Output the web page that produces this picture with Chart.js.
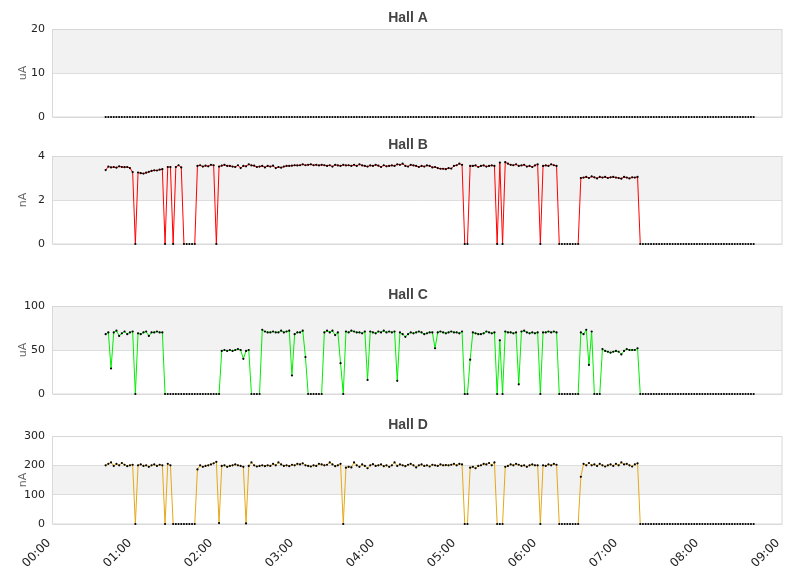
<!DOCTYPE html>
<html><head><meta charset="utf-8">
<script src="https://cdn.jsdelivr.net/npm/chart.js@4.4.0/dist/chart.umd.min.js"></script>
<style>
html,body{margin:0;padding:0;background:#fff;}
#wrap{position:relative;width:811px;height:578px;overflow:hidden;background:#fff}
canvas{position:absolute;left:0}
</style></head><body>
<div id="wrap">
<canvas id="c0" width="811" height="135" style="top:0px;width:811px;height:135px"></canvas>
<canvas id="c1" width="811" height="135" style="top:135px;width:811px;height:135px"></canvas>
<canvas id="c2" width="811" height="140" style="top:270px;width:811px;height:140px"></canvas>
<canvas id="c3" width="811" height="168" style="top:410px;width:811px;height:168px"></canvas>
</div>
<script>
// ---------- DATA ----------
const hourLabels = ['00:00','01:00','02:00','03:00','04:00','05:00','06:00','07:00','08:00','09:00'];
const hallNames = ['Hall A','Hall B','Hall C','Hall D'];
const units = ['uA','nA','uA','nA'];
const yMaxima = [20, 4, 100, 300];
const yStepSizes = [10, 2, 50, 100];
const startMinute = 39;   // first sample 00:39
const stepMinutes = 2;    // one sample every 2 minutes

const hallA = [
0,0,0,0,0,0,0,0,0,0, 0,0,0,0,0,0,0,0,0,0,
0,0,0,0,0,0,0,0,0,0, 0,0,0,0,0,0,0,0,0,0,
0,0,0,0,0,0,0,0,0,0, 0,0,0,0,0,0,0,0,0,0,
0,0,0,0,0,0,0,0,0,0, 0,0,0,0,0,0,0,0,0,0,
0,0,0,0,0,0,0,0,0,0, 0,0,0,0,0,0,0,0,0,0,
0,0,0,0,0,0,0,0,0,0, 0,0,0,0,0,0,0,0,0,0,
0,0,0,0,0,0,0,0,0,0, 0,0,0,0,0,0,0,0,0,0,
0,0,0,0,0,0,0,0,0,0, 0,0,0,0,0,0,0,0,0,0,
0,0,0,0,0,0,0,0,0,0, 0,0,0,0,0,0,0,0,0,0,
0,0,0,0,0,0,0,0,0,0, 0,0,0,0,0,0,0,0,0,0,
0,0,0,0,0,0,0,0,0,0, 0,0,0,0,0,0,0,0,0,0,
0,0,0,0,0,0,0,0,0,0, 0,0,0,0,0,0,0,0,0,0,
0
];

const hallB = [
3.36,3.52,3.48,3.50,3.47,3.53,3.50,3.49,3.50,3.45,
3.27,0,3.25,3.22,3.20,3.24,3.28,3.32,3.35,3.34,
3.38,3.40,0,3.50,3.50,0,3.50,3.58,3.48,0,
0,0,0,0,3.55,3.58,3.52,3.56,3.53,3.60,
3.58,0,3.52,3.56,3.60,3.55,3.55,3.52,3.50,3.58,
3.45,3.55,3.53,3.62,3.57,3.56,3.50,3.52,3.55,3.48,
3.55,3.52,3.56,3.45,3.50,3.47,3.52,3.55,3.55,3.56,
3.58,3.57,3.58,3.62,3.58,3.60,3.62,3.58,3.60,3.57,
3.60,3.58,3.55,3.58,3.52,3.60,3.57,3.55,3.60,3.57,
3.58,3.55,3.60,3.55,3.62,3.57,3.55,3.52,3.57,3.55,
3.60,3.56,3.50,3.58,3.53,3.55,3.57,3.55,3.62,3.60,
3.65,3.55,3.52,3.60,3.57,3.55,3.50,3.55,3.52,3.57,
3.55,3.48,3.50,3.45,3.42,3.42,3.40,3.45,3.43,3.55,
3.58,3.65,3.60,0,0,3.55,3.55,3.57,3.50,3.55,
3.57,3.52,3.55,3.57,3.55,0,3.70,0,3.72,3.65,
3.60,3.58,3.62,3.55,3.57,3.60,3.52,3.55,3.50,3.57,
3.62,0,3.55,3.57,3.55,3.62,3.58,3.55,0,0,
0,0,0,0,0,0,3.00,3.02,3.05,3.00,
3.07,3.03,2.98,3.05,3.02,3.05,3.00,3.03,3.05,3.02,
3.00,2.97,3.05,3.02,2.98,3.03,3.02,3.05,0,0,
0,0,0,0,0,0,0,0,0,0,
0,0,0,0,0,0,0,0,0,0,
0,0,0,0,0,0,0,0,0,0,
0,0,0,0,0,0,0,0,0,0,
0
];

const hallC = [
68,70,29,70,72,66,69,71,68,70,
71,0,69,68,70,71,66,70,70,71,
70,70,0,0,0,0,0,0,0,0,
0,0,0,0,0,0,0,0,0,0,
0,0,0,49,50,49,50,49,50,51,
50,40,49,50,0,0,0,0,73,71,
70,70,71,70,70,72,70,71,72,21,
68,70,70,72,42,0,0,0,0,0,
0,70,72,70,72,67,70,35,0,71,
70,72,71,70,70,69,71,16,71,70,
69,71,70,72,70,71,70,71,15,70,
68,65,68,70,69,70,71,70,68,69,
70,70,52,70,71,70,69,70,71,70,
70,69,71,0,0,39,70,69,68,68,
69,71,70,69,70,0,61,0,71,70,
70,69,70,11,71,72,70,69,70,69,
70,0,70,70,71,70,71,70,0,0,
0,0,0,0,0,0,70,68,73,33,
71,0,0,0,51,49,48,47,48,49,
48,45,49,51,50,50,50,52,0,0,
0,0,0,0,0,0,0,0,0,0,
0,0,0,0,0,0,0,0,0,0,
0,0,0,0,0,0,0,0,0,0,
0,0,0,0,0,0,0,0,0,0,
0
];

const hallD = [
200,205,210,198,205,200,208,202,197,200,
202,0,200,203,198,200,195,200,203,198,
202,200,0,205,200,0,0,0,0,0,
0,0,0,0,186,200,195,198,200,203,
207,212,3,198,200,195,198,200,203,200,
198,195,2,198,210,200,196,198,200,197,
200,198,205,200,210,203,198,200,197,202,
200,205,203,207,200,198,196,200,198,205,
203,200,202,210,203,197,200,205,0,192,
195,193,210,200,195,203,198,190,200,204,
198,200,203,197,200,195,200,210,198,203,
200,197,202,205,200,193,200,203,198,200,
196,202,200,198,203,200,201,200,202,205,
200,205,203,0,0,192,195,190,198,200,
205,203,208,200,210,0,0,0,195,198,
203,200,205,202,198,200,195,200,203,200,
200,0,200,198,203,200,205,202,0,0,
0,0,0,0,0,0,161,205,200,208,
200,203,198,205,200,196,200,203,198,205,
200,210,203,205,200,196,203,207,0,0,
0,0,0,0,0,0,0,0,0,0,
0,0,0,0,0,0,0,0,0,0,
0,0,0,0,0,0,0,0,0,0,
0,0,0,0,0,0,0,0,0,0,
0
];

const seriesValues = [hallA, hallB, hallC, hallD];
const sampleMinutes = hallA.map((_, i) => startMinute + i * stepMinutes);

// ---------- STYLE ----------
Chart.defaults.font.family = "'DejaVu Sans', sans-serif";
const lineColors = ['#000000', '#ff0000', '#00ee00', '#e6a817'];
const paddings = [
  {top: 29, bottom: 18, left: 0, right: 29},
  {top: 21, bottom: 26, left: 0, right: 29},
  {top: 36, bottom: 16, left: 0, right: 29},
  {top: 26, bottom: 0, left: 0, right: 29}
];

const decor = {
  id: 'decor',
  beforeDraw(chart) {
    const {ctx, chartArea: a, scales: {y}} = chart;
    const vals = y.ticks.map(t => t.value);
    ctx.save();
    ctx.fillStyle = '#f2f2f2';
    for (let k = 1; k < vals.length - 1; k += 2) {
      const p1 = y.getPixelForValue(vals[k]);
      const p2 = y.getPixelForValue(vals[k + 1]);
      ctx.fillRect(a.left, Math.min(p1, p2), a.right - a.left, Math.abs(p2 - p1));
    }
    ctx.restore();
  },
  beforeDatasetsDraw(chart) {
    const {ctx, chartArea: a} = chart;
    ctx.save();
    ctx.strokeStyle = '#d8d8d8';
    ctx.lineWidth = 1;
    ctx.strokeRect(Math.round(a.left) - 0.5, Math.round(a.top) + 0.5,
                   Math.round(a.right - a.left) + 0.5, Math.round(a.bottom - a.top) - 0.5);
    ctx.restore();
  },
  afterDraw(chart) {
    const {ctx, chartArea: a} = chart;
    ctx.save();
    ctx.font = "bold 14px 'Liberation Sans', Arial, sans-serif";
    ctx.fillStyle = '#444444';
    ctx.textAlign = 'center';
    ctx.textBaseline = 'middle';
    ctx.fillText(chart.options.plugins.decor.title, 408, a.top - 11);
    ctx.restore();
  }
};

seriesValues.forEach((vals, k) => {
  const color = lineColors[k];
  const showX = k === 3;
  new Chart(document.getElementById('c' + k), {
    type: 'line',
    data: {
      datasets: [{
        data: vals.map((v, i) => ({x: sampleMinutes[i], y: v})),
        borderColor: color,
        borderWidth: 1,
        pointRadius: 1.1,
        pointBackgroundColor: '#000',
        pointBorderColor: '#000',
        pointBorderWidth: 0,
        tension: 0,
        clip: false,
        segment: {
          borderColor: c => (c.p0.parsed.y === 0 && c.p1.parsed.y === 0) ? 'rgba(0,0,0,0)' : color
        }
      }]
    },
    options: {
      responsive: false,
      animation: false,
      events: [],
      layout: {padding: paddings[k]},
      plugins: {
        legend: {display: false},
        tooltip: {enabled: false},
        decor: {title: hallNames[k]}
      },
      scales: {
        x: {
          type: 'linear', min: 0, max: 540,
          display: showX,
          grid: {display: false, drawTicks: false},
          border: {display: false},
          ticks: {
            stepSize: 60, autoSkip: false, maxRotation: 45, minRotation: 45,
            color: '#222', font: {size: 12}, padding: 12, labelOffset: -4,
            callback: v => hourLabels[Math.round(v / 60)]
          },
          afterFit(s) { if (showX) s.height = 54; }
        },
        y: {
          min: 0, max: yMaxima[k],
          grid: {color: '#dddddd', drawTicks: false},
          border: {display: false},
          ticks: {stepSize: yStepSizes[k], color: '#222', font: {size: 11}, padding: 8},
          title: {display: true, text: units[k], color: '#666', font: {size: 11}, padding: {top: 17, bottom: 0}},
          afterFit(s) { s.width = 53; }
        }
      }
    },
    plugins: [decor]
  });
});
</script>
</body></html>
